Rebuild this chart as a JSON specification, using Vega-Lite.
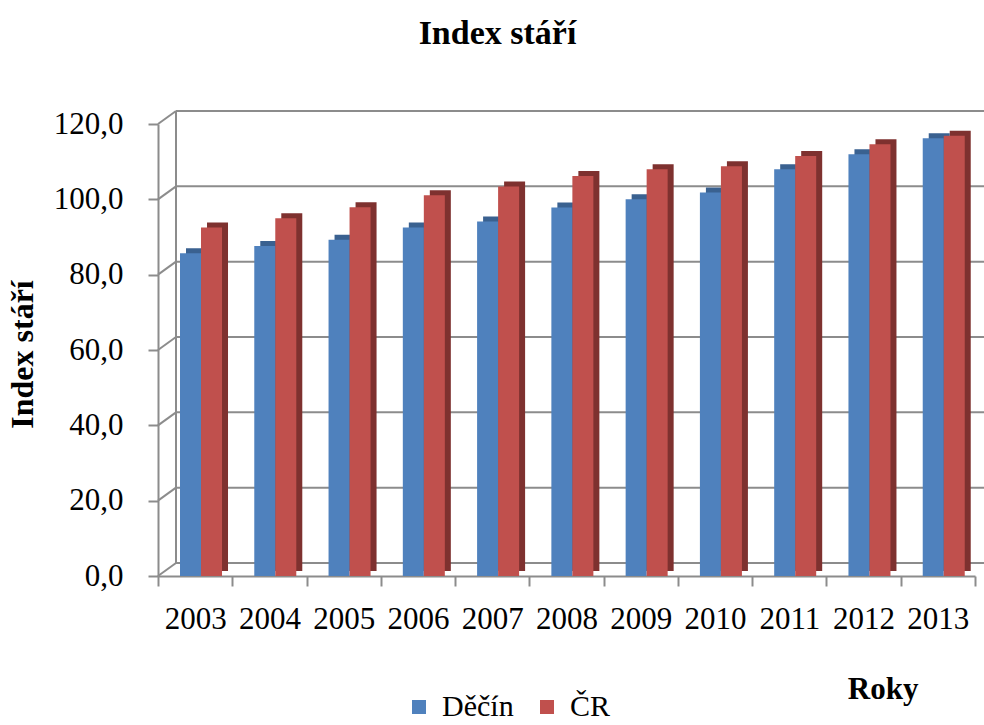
{
  "$schema": "https://vega.github.io/schema/vega-lite/v6.json",
  "width": 817,
  "height": 452,
  "autosize": {"type": "none"},
  "padding": {"left": 158, "top": 124, "right": 9, "bottom": 149},
  "background": "white",
  "config": {
    "font": "Liberation Serif",
    "view": {"stroke": null},
    "legend": {"labelFont": "Liberation Serif", "labelFontSize": 30, "labelColor": "black"}
  },
  "title": {
    "text": "Index stáří",
    "font": "Liberation Serif",
    "fontSize": 34,
    "fontWeight": "bold",
    "color": "black",
    "frame": "group",
    "baseline": "alphabetic",
    "offset": 30,
    "dx": -69
  },
  "resolve": {"scale": {"x": "independent", "color": "independent", "xOffset": "independent"}},
  "datasets": {
    "bars": [
      {"rok": "2003", "oblast": "Děčín", "index": 85.7},
      {"rok": "2003", "oblast": "ČR", "index": 92.5},
      {"rok": "2004", "oblast": "Děčín", "index": 87.6},
      {"rok": "2004", "oblast": "ČR", "index": 95.0},
      {"rok": "2005", "oblast": "Děčín", "index": 89.3},
      {"rok": "2005", "oblast": "ČR", "index": 97.9},
      {"rok": "2006", "oblast": "Děčín", "index": 92.5},
      {"rok": "2006", "oblast": "ČR", "index": 101.1},
      {"rok": "2007", "oblast": "Děčín", "index": 94.1},
      {"rok": "2007", "oblast": "ČR", "index": 103.4},
      {"rok": "2008", "oblast": "Děčín", "index": 97.8},
      {"rok": "2008", "oblast": "ČR", "index": 106.2},
      {"rok": "2009", "oblast": "Děčín", "index": 100.0},
      {"rok": "2009", "oblast": "ČR", "index": 108.0},
      {"rok": "2010", "oblast": "Děčín", "index": 101.8},
      {"rok": "2010", "oblast": "ČR", "index": 108.8},
      {"rok": "2011", "oblast": "Děčín", "index": 108.0},
      {"rok": "2011", "oblast": "ČR", "index": 111.5},
      {"rok": "2012", "oblast": "Děčín", "index": 112.0},
      {"rok": "2012", "oblast": "ČR", "index": 114.6},
      {"rok": "2013", "oblast": "Děčín", "index": 116.2},
      {"rok": "2013", "oblast": "ČR", "index": 116.9}
    ],
    "grid": [
      {"g": 0}, {"g": 20}, {"g": 40}, {"g": 60}, {"g": 80}, {"g": 100}, {"g": 120}
    ]
  },
  "layer": [
    {
      "data": {"name": "grid"},
      "mark": {"type": "rule", "color": "#8c8c8c", "strokeWidth": 2, "xOffset": 18, "x2Offset": 18, "yOffset": -13},
      "encoding": {
        "x": {"datum": 0, "type": "quantitative", "scale": {"domain": [0, 1]}, "axis": null},
        "x2": {"datum": 1},
        "y": {
          "field": "g", "type": "quantitative", "scale": {"domain": [0, 120]},
          "axis": {
            "title": "Index stáří",
            "titleFont": "Liberation Serif",
            "titleFontSize": 32,
            "titleFontWeight": "bold",
            "titleColor": "black",
            "titleX": -126,
            "titleY": 230,
            "titleAlign": "center",
            "titleBaseline": "alphabetic",
            "titleAngle": -90,
            "values": [0, 20, 40, 60, 80, 100, 120],
            "labelExpr": "replace(format(datum.value, '.1f'), '.', ',')",
            "labelFont": "Liberation Serif",
            "labelFontSize": 31,
            "labelColor": "black",
            "labelPadding": 25,
            "tickSize": 10,
            "tickColor": "#8c8c8c",
            "tickWidth": 2,
            "domainColor": "#8c8c8c",
            "domainWidth": 2,
            "grid": false
          }
        }
      }
    },
    {
      "data": {"name": "grid"},
      "mark": {"type": "rule", "color": "#8c8c8c", "strokeWidth": 2, "x2Offset": 18, "y2Offset": -13},
      "encoding": {
        "x": {"datum": 0, "type": "quantitative", "scale": {"domain": [0, 1]}, "axis": null},
        "x2": {"datum": 0},
        "y": {"field": "g", "type": "quantitative"},
        "y2": {"field": "g"}
      }
    },
    {
      "data": {"name": "grid"},
      "mark": {"type": "rule", "color": "#8c8c8c", "strokeWidth": 2, "xOffset": 18, "yOffset": -13, "y2Offset": -13},
      "encoding": {
        "x": {"datum": 0, "type": "quantitative", "scale": {"domain": [0, 1]}, "axis": null},
        "y": {"datum": 0, "type": "quantitative"},
        "y2": {"datum": 120}
      }
    },
    {
      "data": {"name": "bars"},
      "mark": {"type": "bar", "yOffset": -5},
      "encoding": {
        "x": {"field": "rok", "type": "nominal", "scale": {"paddingInner": 0, "paddingOuter": 0}, "axis": null},
        "xOffset": {"field": "oblast", "type": "nominal", "sort": ["Děčín", "ČR"], "scale": {"paddingInner": 0, "paddingOuter": 0.768, "align": 0.868}},
        "y": {"field": "index", "type": "quantitative"},
        "color": {
          "field": "oblast", "type": "nominal",
          "scale": {"domain": ["Děčín", "ČR"], "range": ["#3a6190", "#7e312f"]},
          "legend": null
        }
      }
    },
    {
      "data": {"name": "bars"},
      "mark": {"type": "bar"},
      "encoding": {
        "x": {
          "field": "rok", "type": "nominal",
          "scale": {"paddingInner": 0, "paddingOuter": 0},
          "axis": {
            "title": "Roky",
            "titleFont": "Liberation Serif",
            "titleFontSize": 31,
            "titleFontWeight": "bold",
            "titleColor": "black",
            "titleX": 760,
            "titleY": 122,
            "titleAlign": "right",
            "titleBaseline": "alphabetic",
            "labelAngle": 0,
            "labelFont": "Liberation Serif",
            "labelFontSize": 31,
            "labelColor": "black",
            "labelPadding": 18,
            "tickBand": "extent",
            "tickSize": 10,
            "tickColor": "#8c8c8c",
            "tickWidth": 2,
            "domainColor": "#8c8c8c",
            "domainWidth": 2
          }
        },
        "xOffset": {"field": "oblast", "type": "nominal", "sort": ["Děčín", "ČR"], "scale": {"paddingInner": 0, "paddingOuter": 0.768, "align": 0.682}},
        "y": {"field": "index", "type": "quantitative"},
        "color": {
          "field": "oblast", "type": "nominal",
          "scale": {"domain": ["Děčín", "ČR"], "range": ["#4f81bd", "#c0504d"]},
          "legend": {
            "title": null,
            "orient": "none",
            "legendX": 246,
            "legendY": 568,
            "direction": "horizontal",
            "padding": 0,
            "symbolType": "square",
            "symbolSize": 196,
            "symbolStrokeWidth": 0,
            "labelFont": "Liberation Serif",
            "labelFontSize": 30,
            "labelColor": "black",
            "labelLimit": 200,
            "labelOffset": 8,
            "columnPadding": 18
          }
        }
      }
    }
  ]
}
